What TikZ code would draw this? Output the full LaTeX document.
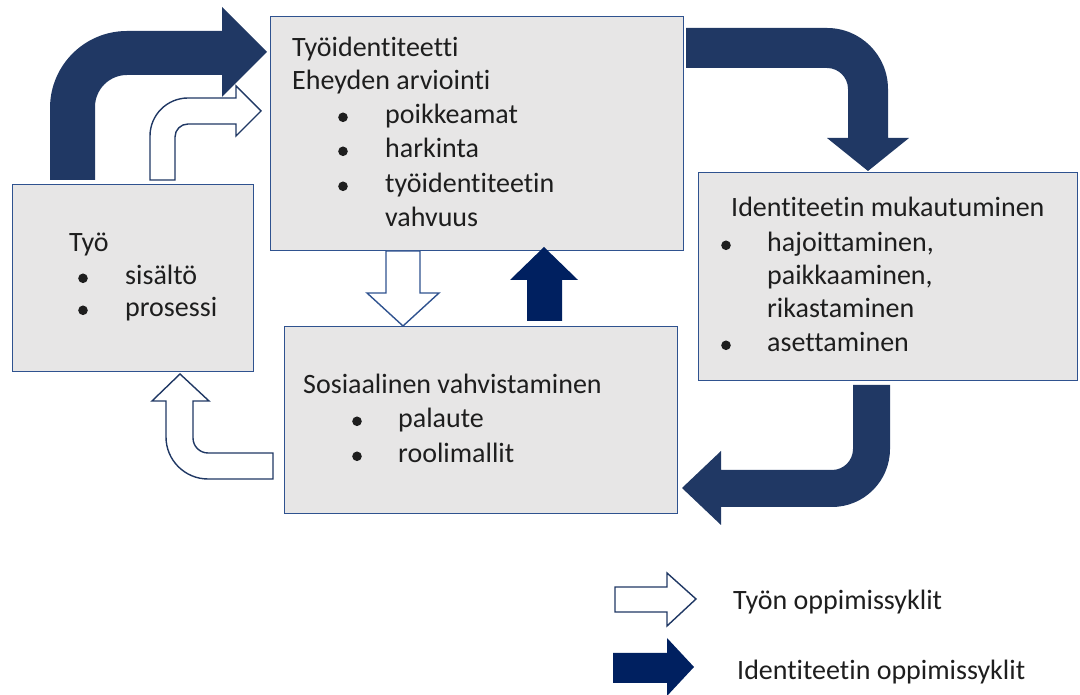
\documentclass[tikz,border=0pt]{standalone}
\usepackage{fontspec}
\setmainfont{Carlito}[Ligatures={NoCommon}]
\definecolor{boxfill}{RGB}{231,230,230}
\definecolor{boxline}{RGB}{47,82,143}
\definecolor{navy}{RGB}{32,56,100}
\definecolor{deepnavy}{RGB}{0,32,96}
\definecolor{ink}{RGB}{30,30,30}
\tikzset{
  box/.style={draw=boxline, line width=1.2pt, fill=boxfill, rectangle, inner sep=0pt, anchor=north west},
  txt/.style={anchor=base west, inner sep=0pt, text=ink, font=\fontsize{28}{34}\selectfont},
  darkarrow/.style={fill=navy, draw=none},
  deeparrow/.style={fill=deepnavy, draw=none},
  hollowarrow/.style={fill=white, draw=navy, line width=1.4pt, line join=miter},
  lightarrow/.style={fill=white, draw=boxline, line width=1.4pt, line join=miter},
  dot/.style={fill=ink}
}
\begin{document}
\begin{tikzpicture}[x=1pt,y=1pt]
\useasboundingbox (0,0) rectangle (1080,695);

% boxes
\node[box, minimum width=413pt, minimum height=234pt] (ident) at (270,679) {};
\node[box, minimum width=241pt, minimum height=187pt] (work) at (12,511) {};
\node[box, minimum width=393pt, minimum height=187pt] (social) at (284,369) {};
\node[box, minimum width=379pt, minimum height=208pt] (adapt) at (698,523) {};

% work identity box
\node[txt] (identA) at (292,638) {Työidentiteetti};
\node[txt] (identB) at (292,605) {Eheyden arviointi};
\node[txt] (identC) at (385,571) {poikkeamat};
\node[txt] (identD) at (385,537) {harkinta};
\node[txt] (identE) at (385,502) {työidentiteetin};
\node[txt] (identF) at (385,468) {vahvuus};
\foreach \yy in {571,537,502} \fill[dot] (343,\yy+6.7) circle (4.8pt);

% work box
\node[txt] (workA) at (69,443) {Työ};
\node[txt] (workB) at (125,410) {sisältö};
\node[txt] (workC) at (125,378) {prosessi};
\foreach \yy in {410,378} \fill[dot] (83,\yy+6.7) circle (4.8pt);

% social validation box
\node[txt] (socialA) at (303,301) {Sosiaalinen vahvistaminen};
\node[txt] (socialB) at (398,267) {palaute};
\node[txt] (socialC) at (398,232) {roolimallit};
\foreach \yy in {267,232} \fill[dot] (357,\yy+6.7) circle (4.8pt);

% identity adaptation box
\node[txt] (adaptA) at (731,478) {Identiteetin mukautuminen};
\node[txt] (adaptB) at (767,443) {hajoittaminen,};
\node[txt] (adaptC) at (767,410) {paikkaaminen,};
\node[txt] (adaptD) at (767,377) {rikastaminen};
\node[txt] (adaptE) at (767,343) {asettaminen};
\foreach \yy in {443,343} \fill[dot] (726,\yy+6.7) circle (4.8pt);

% identity learning cycle (dark bent arrows)
\path[darkarrow] (50,515) -- (50,587) arc[start angle=180,end angle=90,radius=77pt]
  -- (222,664) -- (222,688) -- (267,643) -- (222,598) -- (222,620) -- (127,620)
  arc[start angle=90,end angle=180,radius=32pt] -- (95,515) -- cycle;
\path[darkarrow] (686,667) -- (827,667) arc[start angle=90,end angle=0,radius=61pt]
  -- (888,557) -- (909,557) -- (868,524) -- (827,557) -- (848,557) -- (848,606)
  arc[start angle=0,end angle=90,radius=21pt] -- (686,627) -- cycle;
\path[darkarrow] (853,310) -- (890,310) -- (890,246) arc[start angle=0,end angle=-90,radius=58pt]
  -- (721,188) -- (721,170) -- (682,207) -- (721,244) -- (721,225) -- (832,225)
  arc[start angle=-90,end angle=0,radius=21pt] -- cycle;
\path[deeparrow] (527,374) -- (562,374) -- (562,415) -- (578,415) -- (544,448)
  -- (510,415) -- (527,415) -- cycle;

% work learning cycle (hollow arrows)
\draw[hollowarrow] (150,515) -- (150,559) arc[start angle=180,end angle=90,radius=38pt]
  -- (236,597) -- (236,609) -- (261,584) -- (236,559) -- (236,571) -- (188,571)
  arc[start angle=90,end angle=180,radius=13pt] -- (175,515) -- cycle;
\draw[hollowarrow] (273,242) -- (208,242) arc[start angle=-90,end angle=-180,radius=15pt]
  -- (193,294) -- (209,294) -- (180,321) -- (152,294) -- (166,294) -- (166,258)
  arc[start angle=180,end angle=270,radius=42pt] -- (273,216) -- cycle;
\draw[lightarrow] (386,444) -- (420,444) -- (420,402) -- (439,402) -- (403,369)
  -- (367,402) -- (386,402) -- cycle;

% legend
\draw[hollowarrow] (615,83) -- (615,108) -- (667,108) -- (667,122) -- (696,96)
  -- (667,69) -- (667,83) -- cycle;
\path[deeparrow] (613,12) -- (613,42) -- (667,42) -- (667,57) -- (694,28)
  -- (667,-1) -- (667,12) -- cycle;
\node[txt] (legWork) at (733,85) {Työn oppimissyklit};
\node[txt] (legIdent) at (737,15) {Identiteetin oppimissyklit};
\end{tikzpicture}
\end{document}
